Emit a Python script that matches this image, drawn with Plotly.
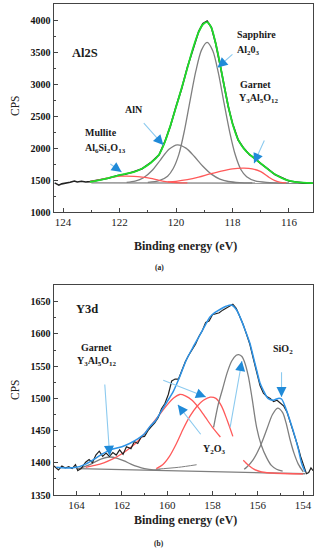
import math
import plotly.graph_objects as go

# ---------------- Panel (a): Al2S ----------------
a_data_E = [124.30, 124.15, 124.05, 123.90, 123.75, 123.60, 123.50, 123.35, 123.20, 123.05,
            122.70, 122.40, 122.10, 121.80, 121.50, 121.20, 120.90, 120.60, 120.40, 120.20,
            120.00, 119.80, 119.60, 119.40, 119.20, 119.05, 118.90, 118.75, 118.60, 118.45,
            118.30, 118.15, 118.00, 117.80, 117.60, 117.40, 117.20, 117.00, 116.75, 116.50,
            116.25, 116.00, 115.75, 115.50, 115.15]
a_data_C = [1455, 1420, 1440, 1450, 1465, 1485, 1470, 1480, 1470, 1475,
            1505, 1528, 1568, 1590, 1630, 1676, 1770, 1895, 2095, 2345,
            2650, 2930, 3260, 3555, 3820, 3945, 3985, 3885, 3640, 3320,
            2985, 2645, 2385, 2125, 1995, 1895, 1835, 1755, 1675, 1585,
            1535, 1485, 1470, 1455, 1450]

a_fit_E = [123.05, 122.70, 122.40, 122.10, 121.80, 121.50, 121.20, 120.90, 120.60, 120.40,
           120.20, 120.00, 119.80, 119.60, 119.40, 119.20, 119.05, 118.90, 118.75, 118.60,
           118.45, 118.30, 118.15, 118.00, 117.80, 117.60, 117.40, 117.20, 117.00, 116.75,
           116.50, 116.25, 116.00, 115.75, 115.50, 115.15]
a_fit_C = [1472, 1500, 1530, 1565, 1595, 1625, 1680, 1765, 1900, 2090,
           2350, 2640, 2940, 3250, 3560, 3810, 3930, 3968, 3880, 3640,
           3330, 2980, 2650, 2380, 2130, 1990, 1900, 1830, 1760, 1670,
           1590, 1530, 1490, 1468, 1458, 1452]

a_sapph_E = [121.0, 120.6, 120.3, 120.1, 119.9, 119.7, 119.5, 119.3, 119.1, 118.9,
             118.7, 118.5, 118.3, 118.1, 117.9, 117.7, 117.5, 117.2, 116.8, 116.0]
a_sapph_C = [1462, 1490, 1560, 1680, 1900, 2280, 2750, 3200, 3530, 3650,
             3520, 3170, 2700, 2250, 1890, 1660, 1550, 1485, 1462, 1455]

a_aln_E = [121.75, 121.45, 121.15, 120.85, 120.55, 120.25, 119.95, 119.65, 119.35, 119.05,
           118.75, 118.45, 118.15, 117.75, 117.30]
a_aln_C = [1462, 1481, 1535, 1648, 1816, 1980, 2050, 1998, 1867, 1715,
           1592, 1515, 1477, 1459, 1455]

a_mull_E = [123.05, 122.80, 122.50, 122.20, 121.95, 121.75, 121.50, 121.20, 120.90, 120.60,
            120.30, 120.00, 119.60]
a_mull_C = [1473, 1495, 1525, 1548, 1560, 1562, 1558, 1545, 1525, 1495,
            1472, 1460, 1456]

a_garn_E = [120.3, 120.0, 119.6, 119.2, 118.8, 118.4, 118.0, 117.6, 117.3, 117.0,
            116.7, 116.5, 116.3, 116.1]
a_garn_C = [1470, 1480, 1505, 1545, 1595, 1640, 1675, 1685, 1675, 1630,
            1540, 1490, 1462, 1455]

a_base_E = [123.0, 115.2]
a_base_C = [1455, 1450]

# ---------------- Panel (b): Y3d ----------------
b_data_E = [165.00, 164.80, 164.65, 164.50, 164.35, 164.20, 164.05, 163.95, 163.80, 163.60,
            163.45, 163.30, 163.15, 163.00, 162.85, 162.70, 162.55, 162.40, 162.25, 162.10,
            161.95, 161.80, 161.60, 161.45, 161.30, 161.15, 161.00, 160.85, 160.70, 160.55,
            160.40, 160.25, 160.10, 159.95, 159.80, 159.65, 159.50, 159.35, 159.20, 159.05,
            158.90, 158.75, 158.60, 158.45, 158.30, 158.15, 158.00, 157.85, 157.70, 157.55,
            157.40, 157.25, 157.10, 156.95, 156.80, 156.65, 156.50, 156.35, 156.20, 156.05,
            155.90, 155.75, 155.60, 155.45, 155.30, 155.15, 155.00, 154.85, 154.70, 154.55,
            154.40, 154.25, 154.10, 153.95, 153.85, 153.75, 153.65, 153.56]
b_data_C = [1395, 1389, 1395, 1392, 1394, 1391, 1397, 1388, 1391, 1401,
            1405, 1400, 1412, 1418, 1410, 1415, 1410, 1416, 1412, 1420,
            1413, 1425, 1422, 1433, 1430, 1440, 1441, 1450, 1456, 1462,
            1470, 1484, 1492, 1506, 1527, 1530, 1530, 1545, 1557, 1567,
            1576, 1584, 1596, 1605, 1618, 1620, 1630, 1632, 1633, 1637,
            1640, 1643, 1646, 1640, 1628, 1615, 1600, 1584, 1562, 1540,
            1520, 1508, 1503, 1500, 1495, 1497, 1493, 1488, 1478, 1462,
            1444, 1428, 1409, 1394, 1383, 1385, 1392, 1388]

b_fit_E = [164.9, 164.5, 164.0, 163.6, 163.2, 162.9, 162.5, 162.0, 161.66, 161.3,
           161.0, 160.77, 160.5, 160.3, 160.0, 159.74, 159.44, 159.15, 158.85, 158.56,
           158.3, 158.12, 157.9, 157.67, 157.4, 157.16, 156.95, 156.79, 156.6, 156.35,
           156.2, 156.05, 155.9, 155.76, 155.55, 155.32, 155.1, 154.95, 154.8, 154.6,
           154.36, 154.2, 154.06, 153.91]
b_fit_C = [1393, 1392, 1393, 1398, 1406, 1413, 1420, 1425, 1430, 1437,
           1445, 1456, 1466, 1478, 1495, 1510, 1534, 1560, 1580, 1598,
           1615, 1626, 1633, 1638, 1643, 1645, 1638, 1627, 1610, 1586,
           1565, 1544, 1524, 1513, 1500, 1497, 1500, 1499, 1488, 1468,
           1441, 1420, 1399, 1386]

b_base_E = [163.95, 153.9]
b_base_C = [1391, 1383]

b_garn_E = [163.9, 163.5, 163.2, 162.9, 162.55, 162.2, 161.9, 161.6, 161.3, 161.0, 160.6, 160.3]
b_garn_C = [1391, 1396, 1401, 1406, 1409, 1407, 1403, 1398, 1394, 1391, 1389, 1389]

b_tail_E = [160.5, 159.5, 158.7]
b_tail_C = [1390, 1393, 1397]

b_red1_E = [163.6, 163.2, 162.8, 162.4, 162.0, 161.6, 161.2, 160.8, 160.4, 160.0,
            159.7, 159.45, 159.2, 158.9, 158.6, 158.3, 158.0, 157.65]
b_red1_C = [1393, 1396, 1400, 1406, 1414, 1424, 1437, 1454, 1472, 1490,
            1501, 1506, 1504, 1497, 1485, 1470, 1455, 1440]

b_red2_E = [160.48, 160.2, 159.9, 159.59, 159.3, 159.0, 158.7, 158.4, 158.1, 157.85,
            157.6, 157.35, 157.1]
b_red2_C = [1391, 1397, 1410, 1430, 1452, 1472, 1487, 1497, 1502, 1500,
            1488, 1466, 1441]

b_y2o3_E = [157.95, 157.75, 157.55, 157.35, 157.15, 156.95, 156.84, 156.7, 156.6, 156.42,
            156.25, 156.05, 155.85, 155.61, 155.4, 155.17, 154.9]
b_y2o3_C = [1455, 1490, 1515, 1540, 1558, 1567, 1568, 1565, 1558, 1535,
            1500, 1455, 1428, 1408, 1396, 1390, 1387]

b_sio2_E = [156.6, 156.49, 156.2, 155.9, 155.6, 155.35, 155.12, 154.9, 154.75, 154.58,
            154.4, 154.21, 153.99]
b_sio2_C = [1390, 1393, 1405, 1425, 1452, 1475, 1485, 1478, 1462, 1437,
            1415, 1398, 1386]

b_redt1_E = [156.64, 156.4, 156.1, 155.83, 155.2, 154.0]
b_redt1_C = [1404, 1396, 1389, 1386, 1384, 1383]
b_redt2_E = [156.55, 156.2, 155.8, 154.0]
b_redt2_C = [1400, 1390, 1385, 1382]

# tick values
a_xticks = [124, 122, 120, 118, 116]
a_yticks = [1000, 1500, 2000, 2500, 3000, 3500, 4000]
b_xticks = [164, 162, 160, 158, 156, 154]
b_yticks = [1350, 1400, 1450, 1500, 1550, 1600, 1650]

A_XR = [124.34, 115.15]
A_YR = [1000, 4250]
B_XR = [165.02, 153.56]
B_YR = [1350, 1676]

W, H = 317, 550
XDOM = [0.1688, 0.9874]
A_YDOM = [0.6145, 0.9927]
B_YDOM = [0.1, 0.4818]

GRAY = "#7f7f7f"
RED = "#ff5a5a"
GREEN = "#1fdc2a"
BLUE = "#2e93e6"
DATA = "#222222"
SERIF = "Liberation Serif, DejaVu Serif, serif"

fig = go.Figure()

def line(x, y, color, width, xa, ya, spline=True, opacity=1.0):
    fig.add_trace(go.Scatter(x=x, y=y, mode="lines", xaxis=xa, yaxis=ya,
                             line=dict(color=color, width=width,
                                       shape="spline" if spline else "linear", smoothing=0.8),
                             opacity=opacity, hoverinfo="skip", showlegend=False))

# panel a
line(a_base_E, a_base_C, GRAY, 1.3, "x", "y", False)
line(a_data_E, a_data_C, DATA, 1.6, "x", "y", False)
line(a_sapph_E, a_sapph_C, GRAY, 1.3, "x", "y")
line(a_aln_E, a_aln_C, GRAY, 1.3, "x", "y")
line(a_mull_E, a_mull_C, RED, 1.3, "x", "y")
line(a_garn_E, a_garn_C, RED, 1.3, "x", "y")
line(a_fit_E, a_fit_C, GREEN, 1.8, "x", "y")

# panel b
line(b_base_E, b_base_C, GRAY, 1.3, "x2", "y2", False)
line(b_tail_E, b_tail_C, GRAY, 1.0, "x2", "y2")
line(b_garn_E, b_garn_C, GRAY, 1.3, "x2", "y2")
line(b_red1_E, b_red1_C, RED, 1.3, "x2", "y2")
line(b_red2_E, b_red2_C, RED, 1.3, "x2", "y2")
line(b_y2o3_E, b_y2o3_C, GRAY, 1.3, "x2", "y2")
line(b_sio2_E, b_sio2_C, GRAY, 1.3, "x2", "y2")
line(b_redt1_E, b_redt1_C, RED, 1.2, "x2", "y2")
line(b_redt2_E, b_redt2_C, RED, 1.0, "x2", "y2", opacity=0.6)
line(b_data_E, b_data_C, DATA, 1.2, "x2", "y2", False)
line(b_fit_E, b_fit_C, BLUE, 1.5, "x2", "y2")

axis_common = dict(showline=True, mirror=True, linecolor="#444444", linewidth=1,
                   ticks="inside", ticklen=4, tickcolor="#444444", showgrid=False,
                   zeroline=False, automargin=False)

fig.update_layout(
    width=W, height=H, autosize=False,
    margin=dict(l=0, r=0, t=0, b=0, pad=0),
    paper_bgcolor="white", plot_bgcolor="white",
    xaxis=dict(domain=XDOM, range=A_XR, tickvals=a_xticks,
               minor=dict(ticks="inside", ticklen=2, dtick=1, tickcolor="#444444"),
               tickfont=dict(family=SERIF, size=11, color="#222"),
               anchor="y", **axis_common),
    yaxis=dict(domain=A_YDOM, range=A_YR, tickvals=a_yticks,
               minor=dict(ticks="inside", ticklen=2, dtick=250, tickcolor="#444444"),
               tickfont=dict(family=SERIF, size=10, color="#111", weight="bold"),
               anchor="x", **axis_common),
    xaxis2=dict(domain=XDOM, range=B_XR, tickvals=b_xticks,
                minor=dict(ticks="inside", ticklen=2, dtick=1, tickcolor="#444444"),
                tickfont=dict(family=SERIF, size=11, color="#222"),
                anchor="y2", **axis_common),
    yaxis2=dict(domain=B_YDOM, range=B_YR, tickvals=b_yticks,
                minor=dict(ticks="inside", ticklen=2, dtick=25, tickcolor="#444444"),
                tickfont=dict(family=SERIF, size=10, color="#111", weight="bold"),
                anchor="x2", **axis_common),
)

def label(text, x, y, xa, ya, size=10, xanchor="center", bold=True):
    fig.add_annotation(text=text, x=x, y=y, xref=xa, yref=ya, showarrow=False,
                       xanchor=xanchor, yanchor="middle",
                       font=dict(family=SERIF, size=size, color="#1a1a1a",
                                 weight="bold" if bold else "normal"))

def to_px(x, y, xr, yr, ydom):
    x0p, x1p = XDOM[0] * W, XDOM[1] * W
    y0p, y1p = (1 - ydom[0]) * H, (1 - ydom[1]) * H
    px = x0p + (x - xr[0]) / (xr[1] - xr[0]) * (x1p - x0p)
    py = y0p + (y - yr[0]) / (yr[1] - yr[0]) * (y1p - y0p)
    return px, py

def arrow(x0, y0, x1, y1, panel):
    xa, ya = ("x", "y") if panel == "a" else ("x2", "y2")
    xr, yr, yd = (A_XR, A_YR, A_YDOM) if panel == "a" else (B_XR, B_YR, B_YDOM)
    # shaft
    fig.add_annotation(x=x1, y=y1, ax=x0, ay=y0, xref=xa, yref=ya, axref=xa, ayref=ya,
                       text="", showarrow=True, arrowhead=0, arrowwidth=1.1,
                       arrowcolor="#8ccaef")
    # filled head
    p0 = to_px(x0, y0, xr, yr, yd)
    p1 = to_px(x1, y1, xr, yr, yd)
    dx, dy = p0[0] - p1[0], p0[1] - p1[1]
    n = math.hypot(dx, dy)
    fig.add_annotation(x=x1, y=y1, ax=dx / n * 6, ay=dy / n * 6, xref=xa, yref=ya,
                       text="", showarrow=True, arrowhead=2, arrowsize=1.25, arrowwidth=1.6,
                       arrowcolor="#1f8ad8")

# panel a labels
label("Al2S", 123.21, 3484, "x", "y", size=12.5)
label("Sapphire", 117.93, 3770, "x", "y", xanchor="left")
label("Al<sub>2</sub>0<sub>3</sub>", 117.93, 3530, "x", "y", xanchor="left")
label("Garnet", 117.8, 3000, "x", "y", xanchor="left")
label("Y<sub>3</sub>Al<sub>5</sub>O<sub>12</sub>", 117.83, 2770, "x", "y", xanchor="left")
label("AlN", 121.48, 2600, "x", "y")
label("Mullite", 123.30, 2240, "x", "y", xanchor="left")
label("Al<sub>6</sub>Si<sub>2</sub>O<sub>13</sub>", 123.30, 2000, "x", "y", xanchor="left")

arrow(117.95, 3484, 118.53, 3258, "a")
arrow(121.19, 2411, 120.45, 2047, "a")
arrow(122.38, 1766, 121.93, 1625, "a")
arrow(116.85, 2141, 117.24, 1761, "a")

# panel b labels
label("Y3d", 163.54, 1638, "x2", "y2", size=12.5)
label("Garnet", 163.11, 1579, "x2", "y2")
label("Y<sub>3</sub>Al<sub>5</sub>O<sub>12</sub>", 163.11, 1557, "x2", "y2")
label("SiO<sub>2</sub>", 154.88, 1576, "x2", "y2")
label("Y<sub>2</sub>O<sub>3</sub>", 157.89, 1420, "x2", "y2")

arrow(162.76, 1524, 162.54, 1411, "b")
arrow(160.24, 1529, 158.29, 1502, "b")
arrow(158.47, 1442, 159.53, 1490, "b")
arrow(157.23, 1453, 156.70, 1558, "b")
arrow(154.95, 1543, 154.95, 1502, "b")

# axis titles and panel captions (paper coordinates)
def ptext(text, xp, yp, size, bold=False, angle=0):
    fig.add_annotation(text=text, x=xp / W, y=1 - yp / H, xref="paper", yref="paper",
                       showarrow=False, xanchor="center", yanchor="middle", textangle=angle,
                       font=dict(family=SERIF, size=size, color="#222",
                                 weight="bold" if bold else "normal"))

ptext("CPS", 15, 106, 11.5, angle=-90)
ptext("CPS", 15, 390, 11.5, angle=-90)
ptext("Binding energy (eV)", 185, 246, 12, bold=True)
ptext("Binding energy (eV)", 185, 520, 12, bold=True)
ptext("(a)", 159, 267, 7.5, bold=True)
ptext("(b)", 159, 543, 7.5, bold=True)

fig.write_html("out.html", config={"displayModeBar": False},
               post_script="document.body.style.margin='0';document.body.style.overflow='hidden';")
